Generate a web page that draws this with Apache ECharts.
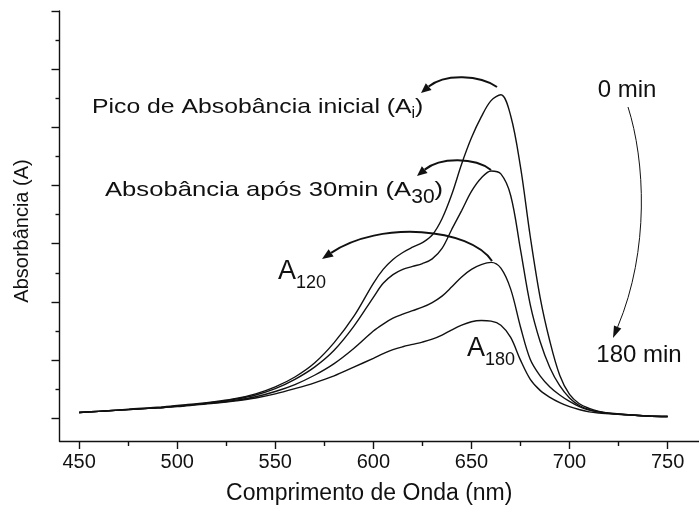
<!DOCTYPE html>
<html>
<head>
<meta charset="utf-8">
<script src="https://cdn.jsdelivr.net/npm/echarts@6/dist/echarts.min.js"></script>
<style>
  html, body { margin: 0; padding: 0; background: #fff; }
  #chart { width: 699px; height: 514px; }
</style>
</head>
<body>
<div id="chart"></div>
<script>
// Wavelength samples (nm)
const wavelengths = [450, 460, 470, 480, 490, 500, 510, 520, 530, 540, 550, 560, 570, 580, 590,
  600, 605, 610, 615, 620, 625, 630, 635, 640, 645, 650, 655, 660, 665, 670, 675, 680, 685,
  690, 695, 700, 705, 710, 715, 720, 730, 740, 750];

// Absorbance spectra at each irradiation time
const abs0min = [0.010, 0.012, 0.014, 0.017, 0.019, 0.022, 0.025, 0.029, 0.034, 0.042, 0.054, 0.071, 0.095, 0.130, 0.175,
  0.232, 0.256, 0.273, 0.285, 0.294, 0.302, 0.315, 0.343, 0.385, 0.437, 0.482, 0.518, 0.546, 0.556, 0.520, 0.432, 0.312, 0.208,
  0.132, 0.074, 0.041, 0.025, 0.017, 0.012, 0.009, 0.006, 0.004, 0.003];
const abs30min = [0.010, 0.012, 0.014, 0.016, 0.018, 0.021, 0.024, 0.028, 0.033, 0.040, 0.051, 0.067, 0.088, 0.117, 0.158,
  0.208, 0.232, 0.247, 0.256, 0.261, 0.266, 0.274, 0.292, 0.325, 0.357, 0.390, 0.413, 0.425, 0.420, 0.383, 0.290, 0.195, 0.132,
  0.087, 0.056, 0.035, 0.022, 0.015, 0.011, 0.008, 0.006, 0.004, 0.003];
const abs120min = [0.010, 0.012, 0.014, 0.016, 0.018, 0.021, 0.024, 0.027, 0.031, 0.037, 0.046, 0.058, 0.074, 0.094, 0.120,
  0.150, 0.162, 0.172, 0.179, 0.185, 0.191, 0.199, 0.210, 0.226, 0.243, 0.256, 0.264, 0.268, 0.258, 0.222, 0.157, 0.101, 0.073,
  0.054, 0.040, 0.029, 0.020, 0.014, 0.011, 0.009, 0.006, 0.004, 0.003];
const abs180min = [0.010, 0.012, 0.014, 0.016, 0.018, 0.020, 0.023, 0.026, 0.030, 0.035, 0.042, 0.051, 0.061, 0.073, 0.088,
  0.103, 0.111, 0.118, 0.123, 0.127, 0.131, 0.136, 0.143, 0.152, 0.160, 0.166, 0.168, 0.167, 0.160, 0.139, 0.100, 0.067, 0.048,
  0.036, 0.027, 0.020, 0.015, 0.011, 0.009, 0.008, 0.006, 0.004, 0.003];

// Axis ticks
const xTickLabels = [450, 500, 550, 600, 650, 700, 750];
const xMinorTicks = [475, 525, 575, 625, 675, 725];
const yMajorTicks = [0, 0.1, 0.2, 0.3, 0.4, 0.5, 0.6, 0.7];
const yMinorTicks = [0.05, 0.15, 0.25, 0.35, 0.45, 0.55, 0.65];

const FONT = '"Liberation Sans", Arial, sans-serif';
const INK = '#111';

const chart = echarts.init(document.getElementById('chart'), null, { renderer: 'canvas' });

function pairs(ys) { return wavelengths.map((w, i) => [w, ys[i]]); }

function spectrum(name, ys) {
  return {
    name, type: 'line', data: pairs(ys), smooth: 0.35, showSymbol: false,
    lineStyle: { color: INK, width: 1.4 }, silent: true, animation: false
  };
}

// measuring text widths so subscripts can be placed after the main text
const measureCtx = document.createElement('canvas').getContext('2d');
function textWidth(str, size) {
  measureCtx.font = size + 'px ' + FONT;
  return measureCtx.measureText(str).width;
}

// main text + lowered subscript + trailing text; main/tail may be stretched horizontally
function subscripted(x, y, main, sub, tail, size, subSize, subDy, stretch) {
  const sx = stretch || 1;
  const w1 = textWidth(main, size) * sx;
  const w2 = textWidth(sub, subSize);
  const base = { fill: INK, fontFamily: FONT, verticalAlign: 'middle', align: 'left' };
  const els = [
    { type: 'text', x, y, scaleX: sx, style: Object.assign({ text: main, fontSize: size }, base) },
    { type: 'text', x: x + w1, y: y + subDy, style: Object.assign({ text: sub, fontSize: subSize }, base) }
  ];
  if (tail) els.push({ type: 'text', x: x + w1 + w2, y, scaleX: sx, style: Object.assign({ text: tail, fontSize: size }, base) });
  return els;
}

// cubic curve with a filled arrowhead at its end
function curvedArrow(p0, c1, c2, p3, width, headLen, headHalf) {
  const dx = p3[0] - c2[0], dy = p3[1] - c2[1];
  const len = Math.hypot(dx, dy);
  const ux = dx / len, uy = dy / len;
  const bx = p3[0] - ux * headLen, by = p3[1] - uy * headLen;
  return [
    { type: 'bezierCurve', shape: { x1: p0[0], y1: p0[1], cpx1: c1[0], cpy1: c1[1], cpx2: c2[0], cpy2: c2[1], x2: bx, y2: by },
      style: { stroke: INK, lineWidth: width, fill: null } },
    { type: 'polygon', shape: { points: [[p3[0], p3[1]], [bx - uy * headHalf, by + ux * headHalf], [bx + uy * headHalf, by - ux * headHalf]] },
      style: { fill: INK } }
  ];
}

const annotations = [].concat(
  subscripted(92, 107, 'Pico de Absobância inicial (A', 'i', ')', 21, 16, 7, 1.18),
  subscripted(105, 190, 'Absobância após 30min (A', '30', ')', 21, 21, 7, 1.22),
  subscripted(278, 272, 'A', '120', '', 27, 18, 11),
  subscripted(467, 349, 'A', '180', '', 27, 18, 11),
  [
    { type: 'text', x: 627, y: 90, style: { text: '0 min', fontSize: 24, fontFamily: FONT, fill: INK, align: 'center', verticalAlign: 'middle' } },
    { type: 'text', x: 639, y: 355, style: { text: '180 min', fontSize: 24, fontFamily: FONT, fill: INK, align: 'center', verticalAlign: 'middle' } }
  ],
  curvedArrow([497, 87], [480, 75], [445, 73], [421, 93], 2, 10, 4.5),
  curvedArrow([491, 170], [475, 157], [440, 157], [417, 176], 2, 10, 4.5),
  curvedArrow([492, 261], [470, 228], [380, 220], [322, 259], 2, 11, 4.5),
  curvedArrow([628, 107], [645, 160], [650, 250], [613, 338], 1, 12, 4)
);

const axisLineStyle = { color: INK, width: 1.4 };

chart.setOption({
  animation: false,
  backgroundColor: '#fff',
  grid: { left: 59.5, right: 0, top: 11, bottom: 73, containLabel: false },
  xAxis: [
    {
      type: 'value', min: 440, max: 766, position: 'bottom',
      name: 'Comprimento de Onda (nm)', nameLocation: 'middle', nameGap: 41,
      nameTextStyle: { fontFamily: FONT, fontSize: 23, color: INK, padding: [0, 20, 0, 0] },
      axisLine: { show: true, onZero: false, lineStyle: axisLineStyle },
      axisTick: { show: true, inside: false, length: 8, customValues: xTickLabels, lineStyle: axisLineStyle },
      axisLabel: { show: true, customValues: xTickLabels, fontFamily: FONT, fontSize: 20, color: INK, margin: 11 },
      splitLine: { show: false }
    },
    {
      type: 'value', min: 440, max: 766, position: 'bottom',
      axisLine: { show: false, onZero: false },
      axisTick: { show: true, inside: false, length: 5, customValues: xMinorTicks, lineStyle: axisLineStyle },
      axisLabel: { show: false },
      splitLine: { show: false }
    }
  ],
  yAxis: [
    {
      type: 'value', min: -0.039, max: 0.7, position: 'left',
      name: 'Absorbância (A)', nameLocation: 'middle', nameGap: 27,
      nameTextStyle: { fontFamily: FONT, fontSize: 20, color: INK, padding: [0, 10, 0, 0] },
      axisLine: { show: true, onZero: false, lineStyle: axisLineStyle },
      axisTick: { show: true, inside: false, length: 8, customValues: yMajorTicks, lineStyle: axisLineStyle },
      axisLabel: { show: false },
      splitLine: { show: false }
    },
    {
      type: 'value', min: -0.039, max: 0.7, position: 'left',
      axisLine: { show: false, onZero: false },
      axisTick: { show: true, inside: false, length: 4, customValues: yMinorTicks, lineStyle: axisLineStyle },
      axisLabel: { show: false },
      splitLine: { show: false }
    }
  ],
  series: [
    spectrum('0 min', abs0min),
    spectrum('30 min', abs30min),
    spectrum('120 min', abs120min),
    spectrum('180 min', abs180min)
  ],
  graphic: annotations
});
</script>
</body>
</html>
